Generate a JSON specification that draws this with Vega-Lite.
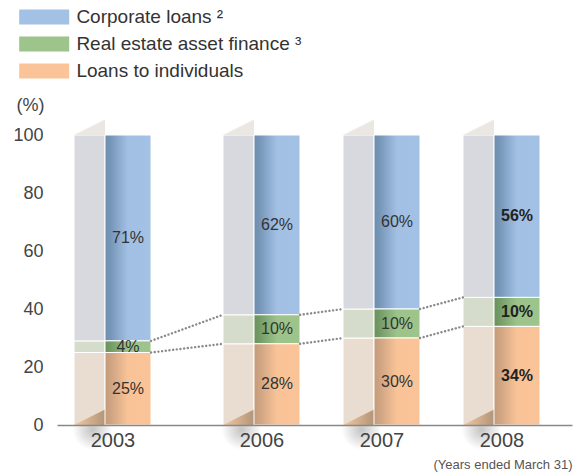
{
  "$schema": "https://vega.github.io/schema/vega-lite/v6.json",
  "width": 515,
  "height": 290,
  "autosize": "none",
  "padding": {"left": 57, "top": 135, "right": 7, "bottom": 49},
  "config": {"view": {"stroke": null}, "font": "Liberation Sans"},
  "data": {
    "values": [
      {"year": 2003, "cat": "Loans to individuals", "order": 1, "value": 25},
      {"year": 2003, "cat": "Real estate asset finance", "order": 2, "value": 4},
      {"year": 2003, "cat": "Corporate loans", "order": 3, "value": 71},
      {"year": 2006, "cat": "Loans to individuals", "order": 1, "value": 28},
      {"year": 2006, "cat": "Real estate asset finance", "order": 2, "value": 10},
      {"year": 2006, "cat": "Corporate loans", "order": 3, "value": 62},
      {"year": 2007, "cat": "Loans to individuals", "order": 1, "value": 30},
      {"year": 2007, "cat": "Real estate asset finance", "order": 2, "value": 10},
      {"year": 2007, "cat": "Corporate loans", "order": 3, "value": 60},
      {"year": 2008, "cat": "Loans to individuals", "order": 1, "value": 34},
      {"year": 2008, "cat": "Real estate asset finance", "order": 2, "value": 10},
      {"year": 2008, "cat": "Corporate loans", "order": 3, "value": 56}
    ]
  },
  "transform": [
    {"stack": "value", "groupby": ["year"], "sort": [{"field": "order", "order": "ascending"}], "as": ["y0", "y1"]}
  ],
  "encoding": {
    "x": {
      "field": "year",
      "type": "quantitative",
      "scale": {"type": "linear", "domain": [2001.883, 2003, 2006, 2008, 2008.5875], "range": [0, 55.5, 204.5, 444.5, 515], "zero": false, "nice": false},
      "axis": {
        "values": [2003, 2006, 2007, 2008],
        "format": "d",
        "ticks": false,
        "grid": false,
        "zindex": 1,
        "domainColor": "#888888",
        "domainWidth": 1.5,
        "labelFontSize": 20,
        "labelColor": "#444444",
        "labelPadding": 5,
        "title": "(Years ended March 31)",
        "titleFontSize": 13,
        "titleFontWeight": "normal",
        "titleColor": "#555555",
        "titleAnchor": "end",
        "titleAlign": "right",
        "titleBaseline": "alphabetic",
        "titleX": 515,
        "titleY": 43
      }
    }
  },
  "layer": [
    {
      "transform": [{"filter": "datum.order == 1"}],
      "mark": {
        "type": "point",
        "shape": "circle",
        "size": 1600,
        "filled": true,
        "strokeWidth": 0,
        "opacity": 1,
        "xOffset": -20,
        "yOffset": 5,
        "fill": {"gradient": "radial", "x1": 0.5, "y1": 0.5, "r1": 0, "x2": 0.5, "y2": 0.5, "r2": 0.5, "stops": [{"offset": 0, "color": "#c4c4c4"}, {"offset": 0.45, "color": "#dedede"}, {"offset": 1, "color": "#ffffff"}]}
      },
      "encoding": {
        "y": {
          "field": "y0",
          "type": "quantitative",
          "scale": {"domain": [0, 100], "nice": false},
          "axis": {
            "values": [0, 20, 40, 60, 80, 100],
            "ticks": false,
            "domain": false,
            "grid": false,
            "labelFontSize": 18,
            "labelColor": "#444444",
            "labelPadding": 14,
            "title": "(%)",
            "titleAngle": 0,
            "titleX": -27,
            "titleY": -30,
            "titleAlign": "center",
            "titleBaseline": "middle",
            "titleFontSize": 18,
            "titleFontWeight": "normal",
            "titleColor": "#444444"
          }
        }
      }
    },
    {
      "mark": {"type": "bar", "width": 31, "xOffset": -23, "stroke": "white", "strokeWidth": 1},
      "encoding": {
        "y": {"field": "y0", "type": "quantitative"},
        "y2": {"field": "y1"},
        "color": {
          "field": "cat",
          "type": "nominal",
          "scale": {"domain": ["Corporate loans", "Real estate asset finance", "Loans to individuals"], "range": ["#d8d9df", "#d6dccc", "#e9dcd0"]},
          "legend": null
        }
      }
    },
    {
      "transform": [{"filter": "datum.order == 3"}],
      "mark": {"type": "point", "shape": "M-1,0.5L1,-0.5L1,0.5Z", "size": 961, "filled": true, "fill": "#ebe8e4", "strokeWidth": 0, "opacity": 1, "xOffset": -23, "yOffset": -7.75},
      "encoding": {"y": {"field": "y1", "type": "quantitative"}}
    },
    {
      "transform": [{"filter": "datum.order == 1"}],
      "mark": {
        "type": "point",
        "shape": "M-1,0.5L1,-0.5L1,0.5Z",
        "size": 961,
        "filled": true,
        "strokeWidth": 0,
        "opacity": 1,
        "xOffset": -23,
        "yOffset": -7.75,
        "fill": {"gradient": "linear", "x1": 0, "y1": 0, "x2": 1, "y2": 0, "stops": [{"offset": 0, "color": "#f2c8a2"}, {"offset": 1, "color": "#b39579"}]}
      },
      "encoding": {"y": {"field": "y0", "type": "quantitative"}}
    },
    {
      "mark": {"type": "bar", "width": 46, "xOffset": 15.5},
      "encoding": {
        "y": {"field": "y0", "type": "quantitative"},
        "y2": {"field": "y1"},
        "color": {
          "field": "cat",
          "type": "nominal",
          "scale": {"domain": ["Corporate loans", "Real estate asset finance", "Loans to individuals"], "range": ["#a3c1e4", "#9dc48b", "#fbc498"]},
          "legend": {
            "orient": "none",
            "legendX": -22.3,
            "legendY": -127.5,
            "title": null,
            "symbolType": "M-3,-0.9L3,-0.9L3,0.9L-3,0.9Z",
            "symbolSize": 278,
            "symbolStrokeWidth": 0,
            "symbolOpacity": 1,
            "labelFontSize": 19,
            "labelColor": "#333333",
            "labelOffset": 22.7,
            "labelLimit": 400,
            "rowPadding": 7,
            "labelExpr": "datum.label == 'Corporate loans' ? 'Corporate loans ²' : (datum.label == 'Real estate asset finance' ? 'Real estate asset finance ³' : datum.label)"
          }
        }
      }
    },
    {
      "transform": [{"filter": "datum.order == 3"}],
      "mark": {
        "type": "bar",
        "width": 46,
        "xOffset": 15.5,
        "stroke": "white",
        "strokeWidth": 1,
        "fill": {"gradient": "linear", "x1": 0, "y1": 0, "x2": 1, "y2": 0, "stops": [{"offset": 0, "color": "#6f8eaf"}, {"offset": 0.12, "color": "#7696b8"}, {"offset": 0.5, "color": "#a2c0e3"}, {"offset": 1, "color": "#a3c1e4"}]}
      },
      "encoding": {"y": {"field": "y0", "type": "quantitative"}, "y2": {"field": "y1"}}
    },
    {
      "transform": [{"filter": "datum.order == 2"}],
      "mark": {
        "type": "bar",
        "width": 46,
        "xOffset": 15.5,
        "stroke": "white",
        "strokeWidth": 1,
        "fill": {"gradient": "linear", "x1": 0, "y1": 0, "x2": 1, "y2": 0, "stops": [{"offset": 0, "color": "#6a915c"}, {"offset": 0.12, "color": "#739b65"}, {"offset": 0.5, "color": "#9cc38a"}, {"offset": 1, "color": "#9dc48b"}]}
      },
      "encoding": {"y": {"field": "y0", "type": "quantitative"}, "y2": {"field": "y1"}}
    },
    {
      "transform": [{"filter": "datum.order == 1"}],
      "mark": {
        "type": "bar",
        "width": 46,
        "xOffset": 15.5,
        "stroke": "white",
        "strokeWidth": 1,
        "fill": {"gradient": "linear", "x1": 0, "y1": 0, "x2": 1, "y2": 0, "stops": [{"offset": 0, "color": "#c49a78"}, {"offset": 0.12, "color": "#cda382"}, {"offset": 0.5, "color": "#f9c397"}, {"offset": 1, "color": "#fbc498"}]}
      },
      "encoding": {"y": {"field": "y0", "type": "quantitative"}, "y2": {"field": "y1"}}
    },
    {
      "transform": [
        {"filter": "datum.order < 3"},
        {"window": [{"op": "lead", "field": "year", "as": "ny"}, {"op": "lead", "field": "y1", "as": "ny1"}], "groupby": ["cat"], "sort": [{"field": "year", "order": "ascending"}]},
        {"filter": "datum.ny != null"}
      ],
      "mark": {"type": "rule", "xOffset": 38.5, "x2Offset": -38.5, "strokeDash": [0.1, 3.6], "strokeCap": "round", "strokeWidth": 2.4, "color": "#8a8a8a"},
      "encoding": {
        "x2": {"field": "ny"},
        "y": {"field": "y1", "type": "quantitative"},
        "y2": {"field": "ny1"}
      }
    },
    {
      "transform": [
        {"filter": "datum.year != 2008"},
        {"calculate": "(datum.y0 + datum.y1) / 2", "as": "mid"},
        {"calculate": "datum.value + '%'", "as": "lbl"}
      ],
      "mark": {"type": "text", "xOffset": 15.5, "fontSize": 16, "color": "#333333", "baseline": "middle", "align": "center"},
      "encoding": {
        "y": {"field": "mid", "type": "quantitative"},
        "text": {"field": "lbl", "type": "nominal"}
      }
    },
    {
      "transform": [
        {"filter": "datum.year == 2008"},
        {"calculate": "(datum.y0 + datum.y1) / 2", "as": "mid"},
        {"calculate": "datum.value + '%'", "as": "lbl"}
      ],
      "mark": {"type": "text", "xOffset": 15.5, "fontSize": 16, "fontWeight": "bold", "color": "#222222", "baseline": "middle", "align": "center"},
      "encoding": {
        "y": {"field": "mid", "type": "quantitative"},
        "text": {"field": "lbl", "type": "nominal"}
      }
    }
  ],
  "resolve": {"scale": {"color": "independent"}}
}
